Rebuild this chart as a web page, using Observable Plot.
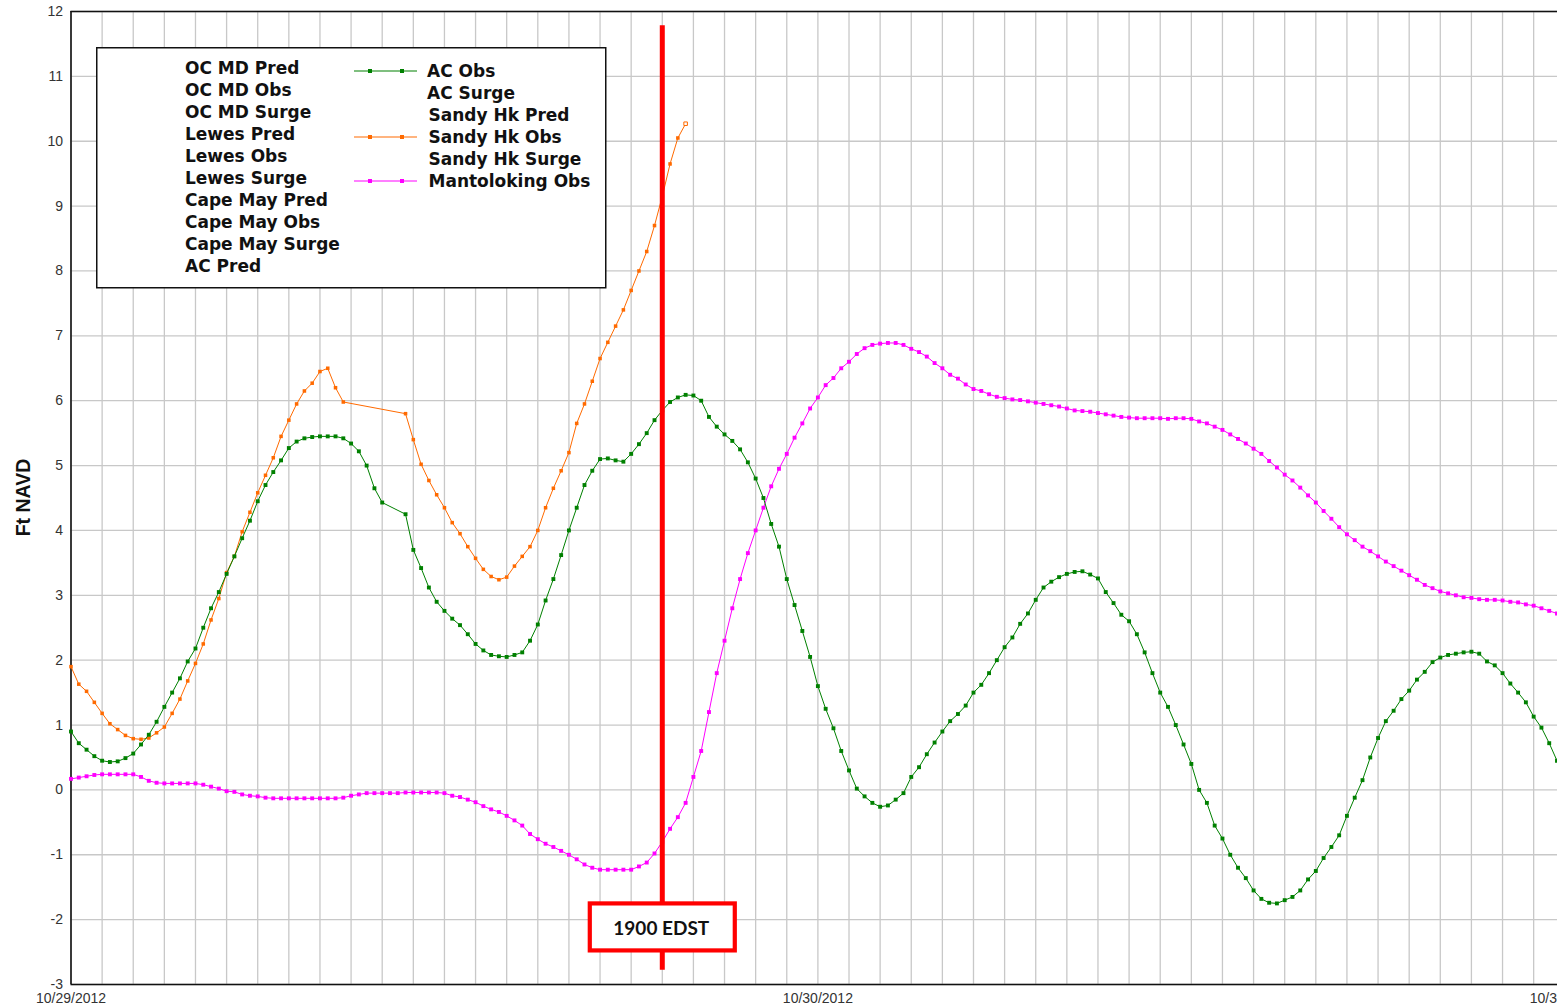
<!DOCTYPE html>
<html>
<head>
<meta charset="utf-8">
<script src="https://cdn.jsdelivr.net/npm/d3@7"></script>
<script src="https://cdn.jsdelivr.net/npm/@observablehq/plot@0.6"></script>
<style>
html, body { margin: 0; padding: 0; background: #fff; overflow: hidden; }
#wrap { position: relative; width: 1557px; height: 1007px; overflow: hidden; background: #fff; }
#wrap > svg.plotmain { display: block; max-width: none !important; width: 1620px !important; height: 1007px !important; }
#overlay { position: absolute; left: 0; top: 0; width: 1557px; height: 1007px; pointer-events: none; }
</style>
</head>
<body>
<div id="wrap"></div>
<script>
// ---------- data (15-minute observations starting 10/29/2012 00:00) ----------
const startTime = "2012-10-29T00:00:00Z";
const stepMinutes = 15;
const eventTime = "2012-10-29T19:00:00Z";
const eventLabel = "1900 EDST";
const yLabel = "Ft NAVD";

const acObs = [
  0.9, 0.72, 0.62, 0.52, 0.45, 0.43, 0.44, 0.49, 0.56, 0.7,
  0.85, 1.05, 1.28, 1.5, 1.72, 1.98, 2.18, 2.5, 2.8, 3.05,
  3.33, 3.6, 3.88, 4.15, 4.45, 4.7, 4.9, 5.08, 5.27, 5.37,
  5.42, 5.44, 5.45, 5.45, 5.45, 5.42, 5.34, 5.22, 5.0, 4.65,
  4.43, null, null, 4.25, 3.7, 3.42, 3.12, 2.9, 2.76, 2.64,
  2.54, 2.4, 2.25, 2.15, 2.08, 2.06, 2.05, 2.08, 2.12, 2.3,
  2.55, 2.92, 3.25, 3.62, 4.0, 4.35, 4.7, 4.92, 5.1, 5.11,
  5.08, 5.06, 5.18, 5.33, 5.5, 5.7, 5.85, 5.98, 6.05, 6.09,
  6.08, 6.0, 5.75, 5.6, 5.48, 5.38, 5.25, 5.05, 4.8, 4.5,
  4.1, 3.75, 3.25, 2.85, 2.45, 2.05, 1.6, 1.25, 0.95, 0.6,
  0.3, 0.02, -0.1, -0.2, -0.26, -0.24, -0.15, -0.05, 0.2, 0.35,
  0.55, 0.73, 0.9, 1.06, 1.17, 1.3, 1.5, 1.62, 1.8, 2.0,
  2.2, 2.35, 2.56, 2.72, 2.93, 3.12, 3.21, 3.28, 3.33, 3.36,
  3.37, 3.32, 3.26, 3.05, 2.88, 2.7, 2.6, 2.4, 2.12, 1.8,
  1.5, 1.28, 1.0, 0.7, 0.4, 0.0, -0.2, -0.55, -0.75, -1.0,
  -1.2, -1.36, -1.55, -1.68, -1.74, -1.75, -1.7, -1.65, -1.55, -1.38,
  -1.25, -1.05, -0.88, -0.7, -0.4, -0.12, 0.15, 0.5, 0.8, 1.06,
  1.22, 1.4, 1.53, 1.7, 1.82, 1.97, 2.04, 2.08, 2.1, 2.12,
  2.13, 2.1, 1.98, 1.92, 1.8, 1.64, 1.5, 1.35, 1.13, 0.96,
  0.72, 0.45
];

const sandyHkObs = [
  1.9, 1.63, 1.52, 1.35, 1.18, 1.02, 0.93, 0.84, 0.79, 0.78,
  0.8, 0.88, 0.97, 1.18, 1.4, 1.68, 1.95, 2.25, 2.62, 2.95,
  3.35, 3.6, 3.98, 4.28, 4.58, 4.85, 5.12, 5.45, 5.7, 5.95,
  6.15, 6.27, 6.45, 6.5, 6.2, 5.98, null, null, null, null,
  null, null, null, 5.8, 5.4, 5.02, 4.77, 4.55, 4.35, 4.12,
  3.95, 3.75, 3.57, 3.4, 3.29, 3.24, 3.28, 3.45, 3.6, 3.75,
  4.0, 4.35, 4.65, 4.92, 5.2, 5.65, 5.95, 6.3, 6.65, 6.9,
  7.15, 7.4, 7.7, 8.0, 8.3, 8.7, 9.15, 9.65, 10.05, 10.27
];

const mantolokingObs = [
  0.17, 0.19, 0.21, 0.23, 0.24, 0.24, 0.24, 0.24, 0.24, 0.2,
  0.14, 0.11, 0.1, 0.1, 0.1, 0.1, 0.1, 0.08, 0.05, 0.02,
  -0.02, -0.03, -0.07, -0.09, -0.1, -0.12, -0.13, -0.13, -0.13, -0.13,
  -0.13, -0.13, -0.13, -0.13, -0.13, -0.12, -0.09, -0.07, -0.05, -0.05,
  -0.05, -0.05, -0.05, -0.04, -0.04, -0.04, -0.04, -0.04, -0.05, -0.09,
  -0.11, -0.15, -0.19, -0.25, -0.3, -0.34, -0.4, -0.47, -0.55, -0.68,
  -0.76, -0.83, -0.88, -0.94, -1.0, -1.07, -1.15, -1.2, -1.23, -1.23,
  -1.23, -1.23, -1.23, -1.18, -1.12, -0.98, -0.8, -0.6, -0.42, -0.2,
  0.2, 0.6, 1.2, 1.8, 2.3, 2.8, 3.25, 3.65, 4.0, 4.35,
  4.68, 4.95, 5.18, 5.43, 5.65, 5.88, 6.05, 6.24, 6.35, 6.5,
  6.6, 6.72, 6.81, 6.86, 6.88, 6.89, 6.89, 6.86, 6.8, 6.75,
  6.68, 6.58, 6.5, 6.4, 6.34, 6.25, 6.18, 6.15, 6.1, 6.06,
  6.04, 6.02, 6.01, 5.99, 5.97, 5.95, 5.93, 5.91, 5.88, 5.85,
  5.84, 5.83, 5.81, 5.79, 5.77, 5.75, 5.74, 5.73, 5.73, 5.73,
  5.73, 5.72, 5.73, 5.73, 5.72, 5.68, 5.65, 5.6, 5.55, 5.48,
  5.41, 5.34, 5.26, 5.18, 5.07, 4.97, 4.86, 4.77, 4.66, 4.54,
  4.43, 4.3, 4.18, 4.05, 3.94, 3.85, 3.75, 3.68, 3.6, 3.52,
  3.45, 3.38, 3.31, 3.24, 3.16, 3.11, 3.06, 3.03, 3.0, 2.97,
  2.96, 2.94, 2.93, 2.93, 2.92, 2.9, 2.89, 2.86, 2.84, 2.8,
  2.76, 2.72
];

const legendCol1 = ["OC MD Pred", "OC MD Obs", "OC MD Surge", "Lewes Pred", "Lewes Obs",
  "Lewes Surge", "Cape May Pred", "Cape May Obs", "Cape May Surge", "AC Pred"];
const legendCol2 = ["AC Obs", "AC Surge", "Sandy Hk Pred", "Sandy Hk Obs", "Sandy Hk Surge", "Mantoloking Obs"];
const legendCol2Colors = ["#008000", null, null, "#ff6a00", null, "#ff00ff"];

const yTicks = d3.range(-3, 13);
const C_AC = "#008000", C_SH = "#ff6a00", C_MT = "#ff00ff", C_RED = "#ff0000";

// ---------- build rows ----------
const t0 = new Date(startTime);
function rows(vals) {
  return vals.map((v, i) => ({t: new Date(+t0 + i * stepMinutes * 60000), v}))
             .filter(d => d.v != null);
}
const acRows = rows(acObs);
const shRows = rows(sandyHkObs);
const mtRows = rows(mantolokingObs);
const tEnd = d3.utcHour.offset(t0, 49);
const xDomain = [t0, tEnd];
const hourTicks = d3.utcHour.range(t0, tEnd);
const dayTicks = d3.utcDay.range(t0, tEnd);
const ev = new Date(eventTime);

const plot = Plot.plot({
  width: 1620,
  height: 1007,
  marginLeft: 70.5,
  marginRight: 24.6,
  marginTop: 11,
  marginBottom: 23,
  className: "plotmain",
  style: {fontFamily: "'Liberation Sans', Arial, sans-serif", background: "#fff"},
  x: {type: "utc", domain: xDomain, axis: null},
  y: {domain: [-3, 12], axis: null},
  marks: [
    Plot.gridX(hourTicks, {stroke: "#c8c8c8", strokeOpacity: 1, strokeWidth: 1.3}),
    Plot.gridY(yTicks, {stroke: "#c8c8c8", strokeOpacity: 1, strokeWidth: 1.3}),
    Plot.ruleY([12], {stroke: "#111", strokeWidth: 1.4}),
    Plot.ruleY([-3], {stroke: "#111", strokeWidth: 1.6}),
    Plot.ruleX([t0], {stroke: "#111", strokeWidth: 1.6}),
    Plot.axisY(yTicks, {tickSize: 0, tickPadding: 8, fontSize: 14, fill: "#333", label: null,
      tickFormat: d => String(d)}),
    Plot.axisX(dayTicks, {tickSize: 0, tickPadding: 9, fontSize: 14, fill: "#333", label: null,
      tickFormat: d3.utcFormat("%m/%d/%Y")}),
    // Mantoloking Obs
    Plot.line(mtRows, {x: "t", y: "v", stroke: C_MT, strokeWidth: 1}),
    Plot.dot(mtRows, {x: "t", y: "v", symbol: "square", r: 2.2, fill: C_MT}),
    // Sandy Hook Obs
    Plot.line(shRows, {x: "t", y: "v", stroke: C_SH, strokeWidth: 1}),
    Plot.dot(shRows.slice(0, -1), {x: "t", y: "v", symbol: "square", r: 2, fill: C_SH}),
    Plot.dot(shRows.slice(-1), {x: "t", y: "v", symbol: "square", r: 2, fill: "#fff", stroke: C_SH, strokeWidth: 1}),
    // AC Obs
    Plot.line(acRows, {x: "t", y: "v", stroke: C_AC, strokeWidth: 1}),
    Plot.dot(acRows, {x: "t", y: "v", symbol: "square", r: 2.2, fill: C_AC}),
    // event marker
    Plot.ruleX([ev], {y1: 11.78, y2: -2.78, stroke: C_RED, strokeWidth: 5})
  ]
});
document.getElementById("wrap").appendChild(plot);

// ---------- overlay: legend, y label, event box ----------
const xs = plot.scale("x"), ys = plot.scale("y");
const evX = xs.apply(ev);
const boxY = ys.apply(-2.12);
const ov = d3.select("#wrap").append("svg").attr("id", "overlay")
  .attr("width", 1557).attr("height", 1007);

// y label
ov.append("text").attr("transform", `translate(23,${ys.apply(4.5)}) rotate(-90)`)
  .attr("text-anchor", "middle").attr("dominant-baseline", "central")
  .style("font-family", "'Liberation Sans', Arial, sans-serif").style("font-weight", "bold")
  .style("font-size", "19.5px").attr("fill", "#111").text(yLabel);

// legend
const lg = ov.append("g");
lg.append("rect").attr("x", 96.75).attr("y", 47.75).attr("width", 509).attr("height", 240)
  .attr("fill", "#fff").attr("stroke", "#111").attr("stroke-width", 1.5);
const lfont = s => s.style("font-family", "'DejaVu Sans', Verdana, sans-serif")
  .style("font-weight", "bold").style("font-size", "17px").attr("fill", "#111")
  .attr("dominant-baseline", "central");
legendCol1.forEach((t, i) => {
  lfont(lg.append("text").attr("x", 185).attr("y", 68 + i * 22).text(t));
});
legendCol2.forEach((t, i) => {
  const y = 70.5 + i * 22;
  lfont(lg.append("text").attr("x", t === "AC Obs" || t === "AC Surge" ? 427 : 428.5).attr("y", y).text(t));
  const c = legendCol2Colors[i];
  if (c) {
    lg.append("line").attr("x1", 354).attr("x2", 417).attr("y1", y + 0.5).attr("y2", y + 0.5)
      .attr("stroke", c).attr("stroke-width", 1.2);
    [370, 402].forEach(mx => lg.append("rect").attr("x", mx - 2).attr("y", y - 1.5)
      .attr("width", 4).attr("height", 4).attr("fill", c));
  }
});

// event box
const bw = 145, bh = 47;
ov.append("rect").attr("x", evX - 72).attr("y", boxY - bh / 2).attr("width", bw).attr("height", bh)
  .attr("fill", "#fff").attr("stroke", C_RED).attr("stroke-width", 4.2);
ov.append("text").attr("x", evX - 0.5).attr("y", boxY + 1).attr("text-anchor", "middle")
  .attr("dominant-baseline", "central")
  .style("font-family", "Lato, 'Open Sans', sans-serif").style("font-weight", "bold")
  .style("font-size", "19px").attr("fill", "#111").text(eventLabel);
</script>
</body>
</html>
